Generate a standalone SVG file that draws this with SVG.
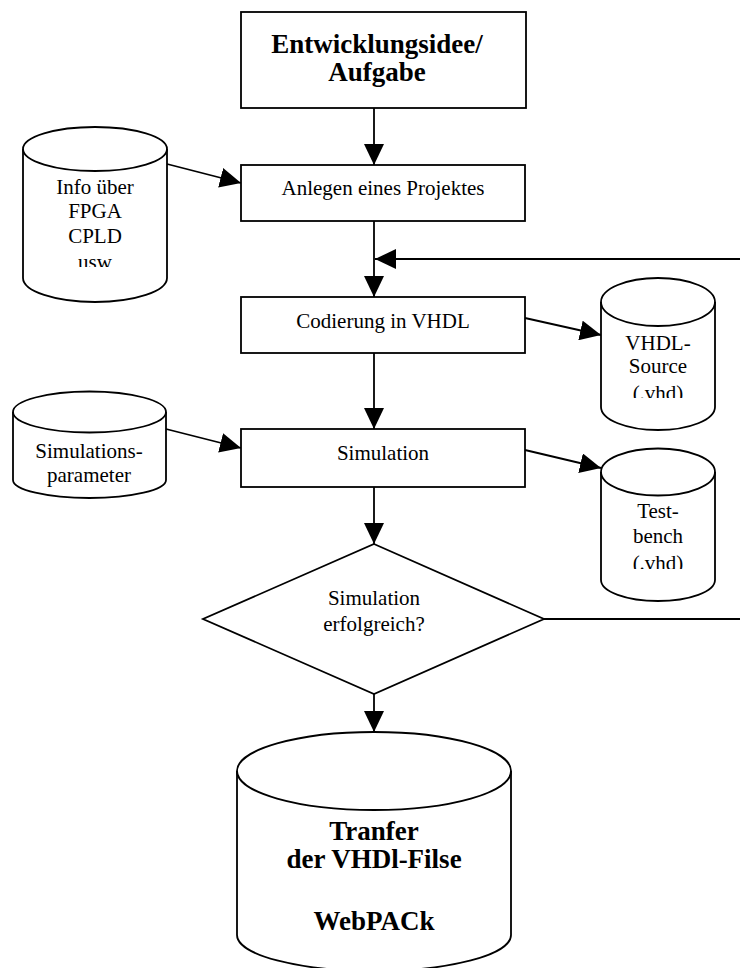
<svg xmlns="http://www.w3.org/2000/svg" width="740" height="968" viewBox="0 0 740 968">
<style>
.s{fill:#fff;stroke:#000;stroke-width:1.8}
.c{fill:none;stroke:#000;stroke-width:1.8}
.l{fill:none;stroke:#000;stroke-width:1.8}
.t{font-family:"Liberation Serif","Times New Roman",serif;font-size:21px;text-anchor:middle;fill:#000}
.b{font-family:"Liberation Serif","Times New Roman",serif;font-size:27px;font-weight:bold;text-anchor:middle;fill:#000}
</style>
<defs>
<marker id="ah" markerUnits="userSpaceOnUse" markerWidth="22" markerHeight="20" refX="21" refY="10" orient="auto">
<path d="M0,0 L21,10 L0,20 Z" fill="#000"/>
</marker>
<clipPath id="cInfo"><rect x="0" y="0" width="740" height="267"/></clipPath>
<clipPath id="cSrc"><rect x="0" y="0" width="740" height="398"/></clipPath>
<clipPath id="cTb"><rect x="0" y="0" width="740" height="569"/></clipPath>
</defs>
<g id="connectors">
<line class="l" x1="374" y1="108" x2="374" y2="165" marker-end="url(#ah)"/>
<line class="l" x1="167" y1="164" x2="241" y2="183" marker-end="url(#ah)"/>
<line class="l" x1="374" y1="221" x2="374" y2="297" marker-end="url(#ah)"/>
<line class="l" x1="740" y1="259" x2="375" y2="259" marker-end="url(#ah)"/>
<line class="l" x1="525" y1="318" x2="601" y2="335" marker-end="url(#ah)"/>
<line class="l" x1="374" y1="353" x2="374" y2="429" marker-end="url(#ah)"/>
<line class="l" x1="166" y1="429" x2="241" y2="448" marker-end="url(#ah)"/>
<line class="l" x1="525" y1="450" x2="601" y2="468" marker-end="url(#ah)"/>
<line class="l" x1="374" y1="487" x2="374" y2="544" marker-end="url(#ah)"/>
<line class="l" x1="544" y1="619" x2="740" y2="619"/>
<line class="l" x1="374" y1="694" x2="374" y2="732" marker-end="url(#ah)"/>
</g>
<g id="n_idee">
<rect class="s" x="241" y="12" width="285" height="96"/>
<text class="b" x="377" y="53">Entwicklungsidee/</text>
<text class="b" x="377" y="81">Aufgabe</text>
</g>
<g id="n_info">
<path class="s" d="M23,149 L23,278 A72,24 0 0 0 167,278 L167,149 A72,22 0 0 0 23,149 Z"/>
<path class="c" d="M23,149 A72,22 0 0 0 167,149"/>
<g clip-path="url(#cInfo)">
<text class="t" x="95" y="194">Info über</text>
<text class="t" x="95" y="218">FPGA</text>
<text class="t" x="95" y="243">CPLD</text>
<text class="t" x="95" y="269">usw</text>
</g>
</g>
<g id="n_anlegen">
<rect class="s" x="241" y="165" width="284" height="56"/>
<text class="t" x="383" y="195">Anlegen eines Projektes</text>
</g>
<g id="n_codierung">
<rect class="s" x="241" y="297" width="284" height="56"/>
<text class="t" x="383" y="328">Codierung in VHDL</text>
</g>
<g id="n_source">
<path class="s" d="M601,302 L601,407 A57,23 0 0 0 715,407 L715,302 A57,24 0 0 0 601,302 Z"/>
<path class="c" d="M601,302 A57,24 0 0 0 715,302"/>
<g clip-path="url(#cSrc)">
<text class="t" x="658" y="350">VHDL-</text>
<text class="t" x="658" y="373">Source</text>
<text class="t" x="658" y="400">(.vhd)</text>
</g>
</g>
<g id="n_simparam">
<path class="s" d="M13,412 L13,480 A76.5,18 0 0 0 166,480 L166,412 A76.5,20.5 0 0 0 13,412 Z"/>
<path class="c" d="M13,412 A76.5,20.5 0 0 0 166,412"/>
<text class="t" x="89" y="458">Simulations-</text>
<text class="t" x="89" y="482">parameter</text>
</g>
<g id="n_simulation">
<rect class="s" x="241" y="429" width="284" height="58"/>
<text class="t" x="383" y="460">Simulation</text>
</g>
<g id="n_testbench">
<path class="s" d="M601,472 L601,580 A57,21 0 0 0 715,580 L715,472 A57,23.5 0 0 0 601,472 Z"/>
<path class="c" d="M601,472 A57,23.5 0 0 0 715,472"/>
<g clip-path="url(#cTb)">
<text class="t" x="658" y="518">Test-</text>
<text class="t" x="658" y="543">bench</text>
<text class="t" x="658" y="570">(.vhd)</text>
</g>
</g>
<g id="n_decision">
<polygon class="s" points="374,544 544,619 374,694 203,619"/>
<text class="t" x="374" y="605">Simulation</text>
<text class="t" x="374" y="631">erfolgreich?</text>
</g>
<g id="n_transfer">
<path class="s" d="M237,771 L237,935 A137,36 0 0 0 511,935 L511,771 A137,39 0 0 0 237,771 Z"/>
<path class="c" d="M237,771 A137,39 0 0 0 511,771"/>
<text class="b" x="374" y="840">Tranfer</text>
<text class="b" x="374" y="868">der VHDl-Filse</text>
<text class="b" x="374" y="930">WebPACk</text>
</g>
</svg>
